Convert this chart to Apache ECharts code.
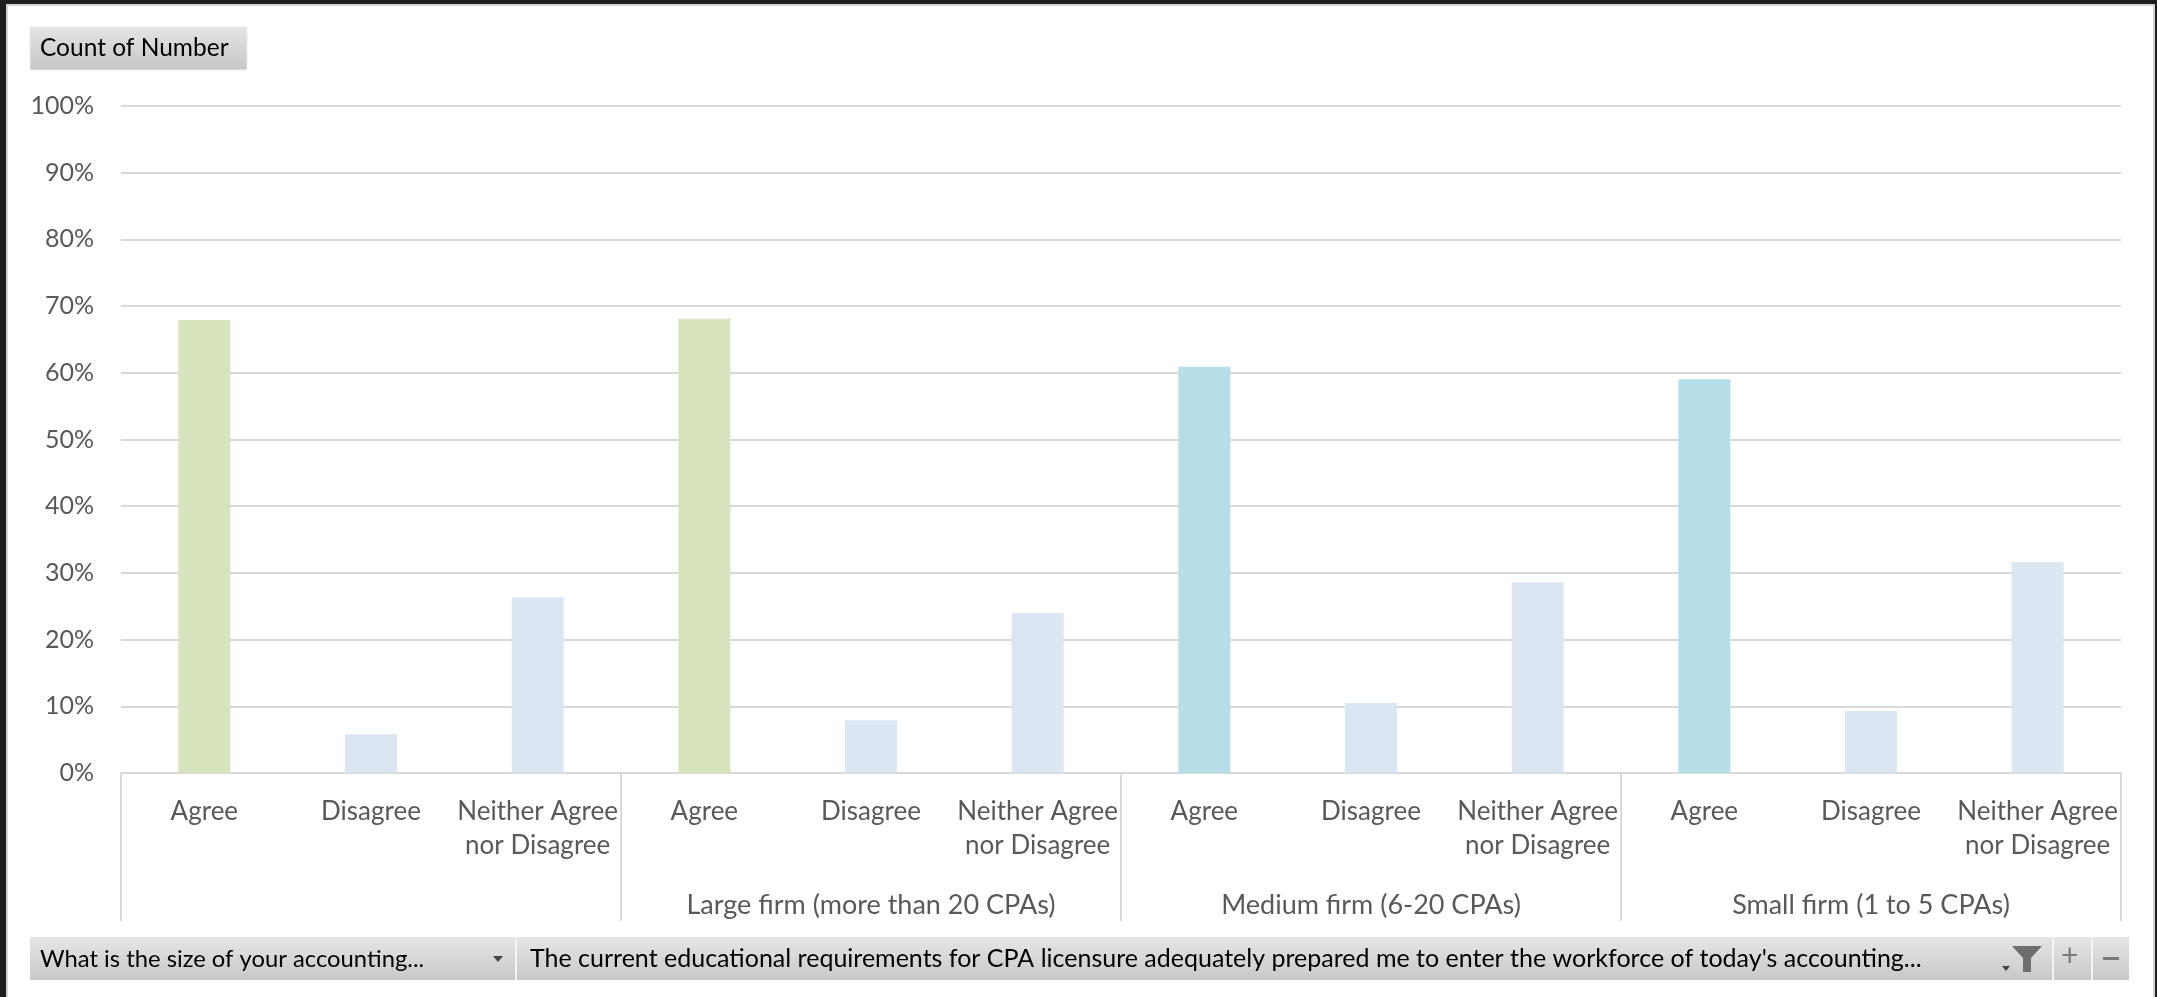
<!DOCTYPE html>
<html>
<head>
<meta charset="utf-8">
<script src="https://cdn.jsdelivr.net/npm/echarts@6/dist/echarts.min.js"></script>
<style>
  html, body { margin: 0; padding: 0; background: #1e1e1e; }
  #chart { width: 2157px; height: 997px; }
</style>
</head>
<body>
<div id="chart"></div>
<script>
// ---- Data ----
const groups = ['', 'Large firm (more than 20 CPAs)', 'Medium firm (6-20 CPAs)', 'Small firm (1 to 5 CPAs)'];
const responses = ['Agree', 'Disagree', 'Neither Agree\nnor Disagree'];
const blankValues  = [0.679, 0.058, 0.263];
const largeValues  = [0.681, 0.079, 0.240];
const mediumValues = [0.609, 0.105, 0.286];
const smallValues  = [0.5905, 0.093, 0.3165];
const yTicks = ['0%', '10%', '20%', '30%', '40%', '50%', '60%', '70%', '80%', '90%', '100%'];
const fieldLabels = ['Count of Number', 'What is the size of your accounting...',
  "The current educational requirements for CPA licensure adequately prepared me to enter the workforce of today's accounting..."];

// ---- Build ----
const groupValues = [blankValues, largeValues, mediumValues, smallValues];
const agreeColors = ['#d7e4bd', '#d7e4bd', '#b7dee8', '#b7dee8'];
const otherColor = '#dce6f2';
const catKeys = [];
const barData = [];
groups.forEach((g, gi) => {
  responses.forEach((r, ri) => {
    catKeys.push(gi + '|' + r);
    barData.push({
      value: groupValues[gi][ri],
      itemStyle: { color: ri === 0 ? agreeColors[gi] : otherColor }
    });
  });
});

const FONT = 'Lato';
const chart = echarts.init(document.getElementById('chart'), null, { renderer: 'canvas' });

const option = {
  backgroundColor: '#1e1e1e',
  animation: false,
  grid: { left: 121, right: 36, top: 106, bottom: 224, containLabel: false },
  xAxis: [
    {
      type: 'category',
      data: catKeys,
      position: 'bottom',
      axisLine: { show: true, lineStyle: { color: '#d9d9d9', width: 2 } },
      axisTick: { show: false },
      axisLabel: {
        interval: 0,
        margin: 22,
        color: '#595959',
        fontFamily: FONT,
        fontSize: 26,
        lineHeight: 34,
        formatter: v => v.split('|')[1]
      }
    },
    {
      type: 'category',
      data: groups,
      position: 'bottom',
      offset: 0,
      axisLine: { show: false },
      axisTick: { show: true, interval: 0, length: 148, lineStyle: { color: '#d9d9d9', width: 2 } },
      axisLabel: {
        interval: 0,
        margin: 115,
        color: '#595959',
        fontFamily: FONT,
        fontSize: 27,
        lineHeight: 34
      },
      splitLine: { show: false }
    }
  ],
  yAxis: {
    type: 'value',
    min: 0,
    max: 1,
    interval: 0.1,
    axisLine: { show: false },
    axisTick: { show: false },
    splitLine: { lineStyle: { color: '#d9d9d9', width: 2 } },
    axisLabel: {
      margin: 27,
      color: '#595959',
      fontFamily: FONT,
      fontSize: 25,
      formatter: v => yTicks[Math.round(v * 10)]
    }
  },
  series: [{
    type: 'bar',
    xAxisIndex: 0,
    data: barData,
    barWidth: 52
  }],
  graphic: [
    { type: 'rect', z: -10, silent: true,
      shape: { x: 7, y: 5, width: 2147, height: 993 },
      style: { fill: '#ffffff', stroke: '#d4d4d4', lineWidth: 2 } },
    // Count of Number button
    { type: 'rect', z: 10, shape: { x: 30, y: 27, width: 217, height: 43 },
      style: { fill: new echarts.graphic.LinearGradient(0, 0, 0, 1, [
        { offset: 0, color: '#e4e4e4' }, { offset: 1, color: '#c6c6c6' }]), stroke: '#ececec', lineWidth: 1 } },
    { type: 'text', z: 11, left: 40, top: 36,
      style: { text: fieldLabels[0], fill: '#000000', font: '24.5px ' + FONT } },
    // bottom field bar
    { type: 'rect', z: 10, shape: { x: 30, y: 937, width: 2099, height: 43 },
      style: { fill: new echarts.graphic.LinearGradient(0, 0, 0, 1, [
        { offset: 0, color: '#e6e6e6' }, { offset: 1, color: '#c8c8c8' }]) } },
    { type: 'line', z: 11, shape: { x1: 516, y1: 937, x2: 516, y2: 980 }, style: { stroke: '#f4f4f4', lineWidth: 2 } },
    { type: 'line', z: 11, shape: { x1: 2053, y1: 937, x2: 2053, y2: 980 }, style: { stroke: '#f4f4f4', lineWidth: 2 } },
    { type: 'line', z: 11, shape: { x1: 2092, y1: 937, x2: 2092, y2: 980 }, style: { stroke: '#f4f4f4', lineWidth: 2 } },
    { type: 'text', z: 11, left: 40, top: 947,
      style: { text: fieldLabels[1], fill: '#000000', font: '23.8px ' + FONT } },
    { type: 'polygon', z: 11, shape: { points: [[493, 956], [503, 956], [498, 962]] }, style: { fill: '#444444' } },
    { type: 'text', z: 11, left: 530, top: 946,
      style: { text: fieldLabels[2], fill: '#000000', font: '25px ' + FONT } },
    // filter icon
    { type: 'polygon', z: 11, shape: { points: [[2002, 966], [2010, 966], [2006, 971]] }, style: { fill: '#444444' } },
    { type: 'polygon', z: 11, shape: { points: [[2012, 946], [2042, 946], [2031, 958], [2031, 972], [2023, 972], [2023, 958]] }, style: { fill: '#6e6e6e' } },
    { type: 'text', z: 11, left: 2061, top: 941,
      style: { text: '+', fill: '#7a7a7a', font: '30px ' + FONT } },
    { type: 'rect', z: 11, shape: { x: 2103, y: 957, width: 16, height: 3 }, style: { fill: '#7a7a7a' } }
  ]
};
chart.setOption(option);
</script>
</body>
</html>
